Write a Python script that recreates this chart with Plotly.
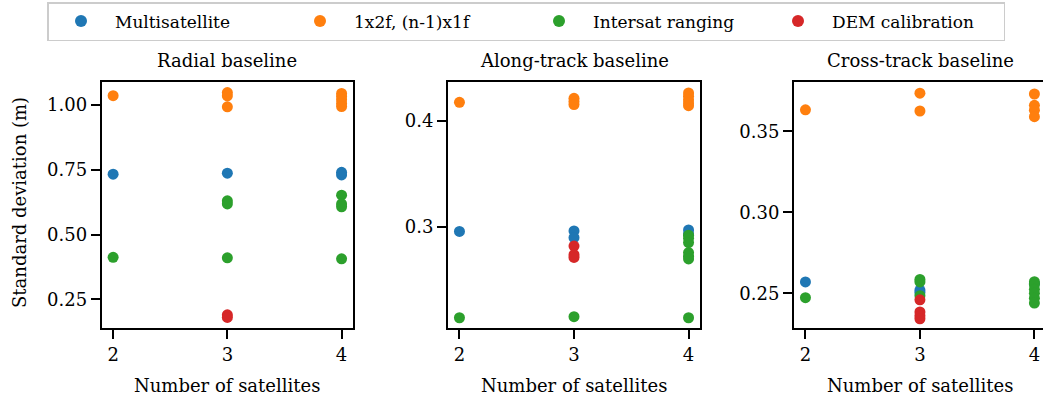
import plotly.graph_objects as go

W, H = 1043, 400

series_names = ["Multisatellite", "1x2f, (n-1)x1f", "Intersat ranging", "DEM calibration"]
series_colors = ["#1f77b4", "#ff7f0e", "#2ca02c", "#d62728"]
panel_titles = ["Radial baseline", "Along-track baseline", "Cross-track baseline"]
x_ticks = [2, 3, 4]

# Radial baseline
rad_multi_x = [2, 3, 4, 4]
rad_multi_y = [0.733, 0.737, 0.730, 0.740]
rad_1x2f_x = [2, 3, 3, 3, 4, 4, 4, 4, 4]
rad_1x2f_y = [1.036, 1.048, 1.035, 0.993, 1.045, 1.033, 1.020, 1.006, 0.994]
rad_isl_x = [2, 3, 3, 3, 4, 4, 4, 4]
rad_isl_y = [0.412, 0.630, 0.618, 0.410, 0.652, 0.618, 0.607, 0.406]
rad_dem_x = [3, 3]
rad_dem_y = [0.190, 0.180]

# Along-track baseline
at_multi_x = [2, 3, 3, 4, 4]
at_multi_y = [0.2956, 0.2960, 0.2896, 0.2969, 0.2930]
at_1x2f_x = [2, 3, 3, 3, 4, 4, 4, 4, 4]
at_1x2f_y = [0.4177, 0.4215, 0.4185, 0.4155, 0.4265, 0.4235, 0.4200, 0.4170, 0.4145]
at_isl_x = [2, 3, 4, 4, 4, 4, 4, 4, 4]
at_isl_y = [0.2139, 0.2149, 0.2139, 0.2920, 0.2890, 0.2850, 0.2755, 0.2720, 0.2695]
at_dem_x = [3, 3, 3]
at_dem_y = [0.2817, 0.2735, 0.2710]

# Cross-track baseline
ct_multi_x = [2, 3, 3, 4]
ct_multi_y = [0.2570, 0.2520, 0.2505, 0.2560]
ct_1x2f_x = [2, 3, 3, 4, 4, 4, 4]
ct_1x2f_y = [0.3632, 0.3735, 0.3625, 0.3730, 0.3660, 0.3630, 0.3590]
ct_isl_x = [2, 3, 3, 3, 4, 4, 4, 4, 4, 4]
ct_isl_y = [0.2473, 0.2586, 0.2570, 0.2485, 0.2572, 0.2555, 0.2525, 0.2500, 0.2470, 0.2440]
ct_dem_x = [3, 3, 3, 3]
ct_dem_y = [0.2460, 0.2385, 0.2362, 0.2343]

panels = [
    [(rad_multi_x, rad_multi_y), (rad_1x2f_x, rad_1x2f_y), (rad_isl_x, rad_isl_y), (rad_dem_x, rad_dem_y)],
    [(at_multi_x, at_multi_y), (at_1x2f_x, at_1x2f_y), (at_isl_x, at_isl_y), (at_dem_x, at_dem_y)],
    [(ct_multi_x, ct_multi_y), (ct_1x2f_x, ct_1x2f_y), (ct_isl_x, ct_isl_y), (ct_dem_x, ct_dem_y)],
]

y_ranges = [[0.139, 1.089], [0.2042, 0.4369], [0.2286, 0.3804]]
y_tickvals = [[0.25, 0.5, 0.75, 1.0], [0.3, 0.4], [0.25, 0.30, 0.35]]
y_ticktext = [["0.25", "0.50", "0.75", "1.00"], ["0.3", "0.4"], ["0.25", "0.30", "0.35"]]
x_ranges = [[1.9, 4.1], [1.9, 4.1], [1.9, 4.075]]

# pixel layout
x_px = [(101.7, 353), (448, 700), (794, 1043)]
y_top, y_bot = 82, 328

FONT = "DejaVu Serif"
FS = 18
LEG_FS = 17

fig = go.Figure()
for p, data in enumerate(panels):
    xa = "x" if p == 0 else f"x{p+1}"
    ya = "y" if p == 0 else f"y{p+1}"
    for s, (xs, ys) in enumerate(data):
        fig.add_trace(go.Scatter(
            x=xs, y=ys, mode="markers", xaxis=xa, yaxis=ya,
            name=series_names[s], legendgroup=series_names[s], showlegend=(p == 0),
            marker=dict(color=series_colors[s], size=11, line=dict(width=0)),
        ))

layout = dict(
    width=W, height=H, margin=dict(l=0, r=0, t=0, b=0),
    paper_bgcolor="white", plot_bgcolor="white",
    font=dict(family=FONT, size=FS, color="black"),
    showlegend=True,
    legend=dict(orientation="h", x=47 / W, y=1 - 2 / H, xanchor="left", yanchor="top",
                bordercolor="#cccccc", borderwidth=1.5, bgcolor="white",
                entrywidth=166, entrywidthmode="pixels", itemwidth=58,
                font=dict(size=LEG_FS, family=FONT), itemsizing="constant", tracegroupgap=0),
)
annotations = []
for p in range(3):
    xk = "xaxis" if p == 0 else f"xaxis{p+1}"
    yk = "yaxis" if p == 0 else f"yaxis{p+1}"
    x0, x1 = x_px[p]
    layout[xk] = dict(
        domain=[x0 / W, min(x1 / W, 1.0)], range=x_ranges[p],
        anchor="y" if p == 0 else f"y{p+1}",
        tickvals=x_ticks, ticktext=[str(t) for t in x_ticks],
        showgrid=False, zeroline=False, showline=True, linecolor="black", linewidth=2,
        mirror=True, ticks="outside", ticklen=9, tickwidth=2, tickcolor="black",
        tickfont=dict(family=FONT, size=FS),
    )
    layout[yk] = dict(
        domain=[1 - y_bot / H, 1 - y_top / H], range=y_ranges[p],
        anchor="x" if p == 0 else f"x{p+1}",
        tickvals=y_tickvals[p], ticktext=y_ticktext[p],
        showgrid=False, zeroline=False, showline=True, linecolor="black", linewidth=2,
        mirror=(p < 2), ticks="outside", ticklen=9, tickwidth=2, tickcolor="black",
        tickfont=dict(family=FONT, size=FS),
    )
    cx = (x0 + x1) / W / 2 if p < 2 else (x0 + 1046) / W / 2
    annotations.append(dict(text=panel_titles[p], x=cx, y=1 - 60 / H, xref="paper", yref="paper",
                            showarrow=False, xanchor="center", yanchor="middle",
                            font=dict(size=FS, family=FONT)))
    annotations.append(dict(text="Number of satellites", x=cx, y=1 - 385 / H, xref="paper", yref="paper",
                            showarrow=False, xanchor="center", yanchor="middle",
                            font=dict(size=FS, family=FONT)))
annotations.append(dict(text="Standard deviation (m)", x=20 / W, y=1 - 203 / H, xref="paper", yref="paper",
                        showarrow=False, textangle=-90, xanchor="center", yanchor="middle",
                        font=dict(size=FS, family=FONT)))
layout["annotations"] = annotations
fig.update_layout(**layout)
fig.write_html("out.html")
